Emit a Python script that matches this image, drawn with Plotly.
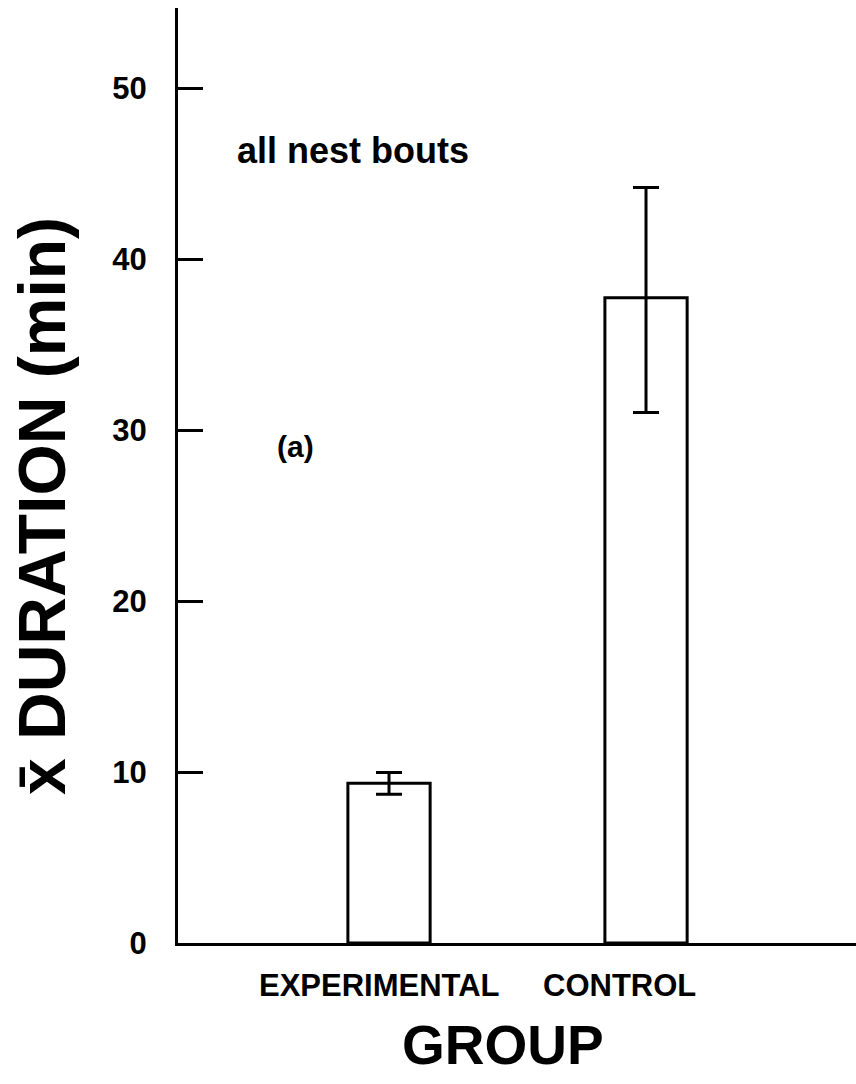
import plotly.graph_objects as go

# ---- data ----
groups = ["EXPERIMENTAL", "CONTROL"]
mean_duration = [9.35, 37.75]
err_upper = [0.63, 6.45]
err_lower = [0.65, 6.72]
y_ticks = [0, 10, 20, 30, 40, 50]

FONT = "Liberation Sans, Arial, Helvetica, sans-serif"

fig = go.Figure()
fig.add_trace(go.Bar(
    x=groups,
    y=mean_duration,
    width=0.32,
    marker=dict(color="white", line=dict(color="black", width=3)),
    error_y=dict(type="data", symmetric=False, array=err_upper, arrayminus=err_lower,
                 color="black", thickness=3, width=13),
    showlegend=False,
))

fig.update_layout(
    width=856, height=1084,
    margin=dict(l=178, r=0, t=8, b=141),
    plot_bgcolor="white", paper_bgcolor="white",
    font=dict(family=FONT, color="black"),
    xaxis=dict(
        type="category", range=[-0.821, 1.817],
        showline=True, linecolor="black", linewidth=3,
        showticklabels=False, ticks="", showgrid=False, zeroline=False,
    ),
    yaxis=dict(
        range=[0, 54.7], tickvals=y_ticks,
        showline=True, linecolor="black", linewidth=3,
        ticks="inside", ticklen=25, tickwidth=3, tickcolor="black",
        ticklabelstandoff=22,
        tickfont=dict(family=FONT, size=31, color="black", weight="bold"),
        showgrid=False, zeroline=False,
    ),
)

# category labels
label_shift = [-10, -27]
for g, s in zip(groups, label_shift):
    fig.add_annotation(x=g, xref="x", y=-0.025, yref="paper", text=f"<b>{g}</b>",
                       showarrow=False, xshift=s, yanchor="top",
                       font=dict(family=FONT, size=31, color="black"))

fig.add_annotation(x=(503 - 178) / 678, xref="paper", y=(943 - 1045) / 935, yref="paper",
                   text="<b>GROUP</b>", showarrow=False, xanchor="center", yanchor="middle",
                   font=dict(family=FONT, size=55, color="black"))

fig.add_annotation(x=(42 - 178) / 678, xref="paper", y=(943 - 506) / 935, yref="paper",
                   text="<b>x\u0304 DURATION (min)</b>", textangle=-90, showarrow=False,
                   xanchor="center", yanchor="middle",
                   font=dict(family=FONT, size=66, color="black"))

fig.add_annotation(x=(235 - 178) / 678, xref="paper", y=(943 - 150) / 935, yref="paper",
                   text="<b>all nest bouts</b>", showarrow=False, xanchor="left", yanchor="middle",
                   font=dict(family=FONT, size=36, color="black"))

fig.add_annotation(x=(275 - 178) / 678, xref="paper", y=(943 - 446) / 935, yref="paper",
                   text="<b>(a)</b>", showarrow=False, xanchor="left", yanchor="middle",
                   font=dict(family=FONT, size=30, color="black"))

fig.write_html("out.html")
